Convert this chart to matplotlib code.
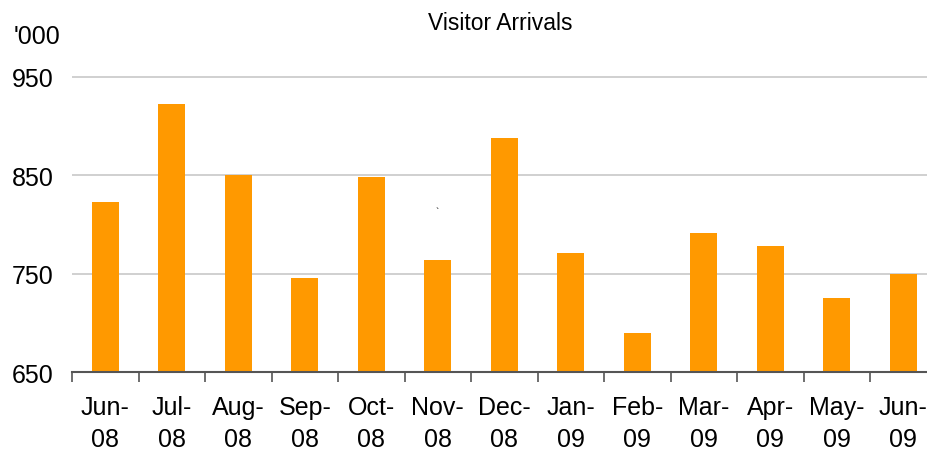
import matplotlib
matplotlib.use("Agg")
import matplotlib.pyplot as plt
import numpy as np

# ── data ────────────────────────────────────────────
months = ["Jun-\n08", "Jul-\n08", "Aug-\n08", "Sep-\n08", "Oct-\n08", "Nov-\n08",
          "Dec-\n08", "Jan-\n09", "Feb-\n09", "Mar-\n09", "Apr-\n09", "May-\n09",
          "Jun-\n09"]
arrivals = [823, 922, 850, 746, 848, 764, 888, 771, 690, 791, 778, 725, 750]
yticks = [650, 750, 850, 950]

plt.rcParams["font.family"] = ["Liberation Sans", "DejaVu Sans"]

W, H = 927, 452
fig = plt.figure(figsize=(W / 100, H / 100), dpi=100)
# axes: left 72px, right ~937px (clipped at edge), bottom 373px, top ~28px
ax = fig.add_axes([72 / W, (H - 373.3) / H, (936.5 - 72) / W, (373.3 - 28.5) / H])

x = np.arange(len(months))
ax.bar(x, arrivals, width=0.41, color="#FF9900", zorder=3)

ax.set_xlim(-0.5, len(months) - 0.5)
ax.set_ylim(650, 1000)
ax.set_yticks(yticks)
ax.set_yticklabels([str(v) for v in yticks], fontsize=18)
ax.yaxis.grid(True, color="#c8c8c8", linewidth=1.2, zorder=0)
ax.tick_params(axis="y", length=0, pad=13)

# category boundary ticks, labels centered between them
ax.set_xticks(np.arange(len(months) + 1) - 0.5)
ax.set_xticklabels([])
ax.set_xticks(x, minor=True)
ax.set_xticklabels(months, minor=True, fontsize=18, linespacing=1.45)
ax.tick_params(axis="x", which="major", length=7, width=1.2, color="#555555", direction="out")
ax.tick_params(axis="x", which="minor", length=0, pad=16)

for s in ["top", "right", "left"]:
    ax.spines[s].set_visible(False)
ax.spines["bottom"].set_color("#555555")
ax.spines["bottom"].set_linewidth(1.5)
ax.spines["bottom"].set_zorder(4)

fig.text(500 / W, 1 - 23.5 / H, "Visitor Arrivals", ha="center", va="center", fontsize=16.5)
fig.text(14 / W, 1 - 37 / H, "'000", ha="left", va="center", fontsize=18)
fig.text(437 / W, 1 - 213 / H, "`", ha="center", va="center", fontsize=7)

fig.savefig("out.png", dpi=100)
